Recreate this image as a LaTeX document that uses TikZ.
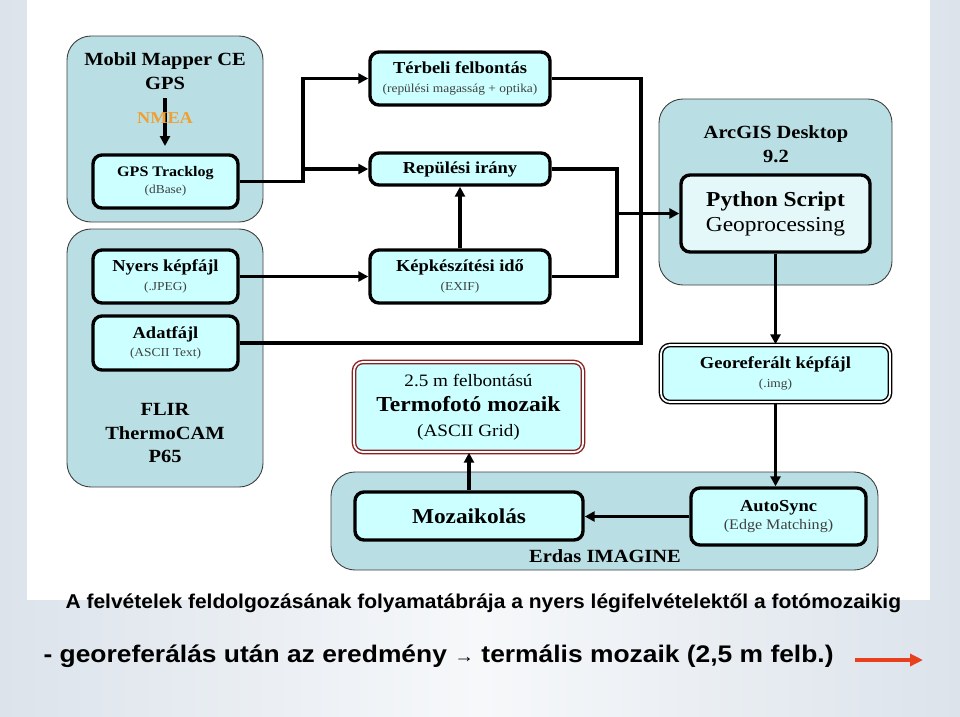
\documentclass[tikz,border=0pt]{standalone}
\usepackage{fontspec}
\setmainfont{Liberation Serif}[FakeStretch=1.1]
\newfontfamily\captionfont[FakeStretch=1.05]{Liberation Sans}
\newfontfamily\resultfont[FakeStretch=1.1]{Liberation Sans}
\usetikzlibrary{arrows.meta}

\definecolor{grpfill}{HTML}{B9DEE3}
\definecolor{boxfill}{HTML}{CCFFFF}
\definecolor{scriptfill}{HTML}{E4F7F9}
\definecolor{subgray}{HTML}{404040}
\definecolor{nmeaorange}{HTML}{F0A030}
\definecolor{termored}{HTML}{8B2020}
\definecolor{slidebg}{HTML}{DCE3EB}
\definecolor{redarrow}{HTML}{E8401C}

\newcommand{\subtxt}[1]{{\mdseries\fontsize{12.2}{14}\selectfont\color{subgray}#1}}

\begin{document}
\begin{tikzpicture}[x=1pt, y=-1pt,
    group/.style = {draw=black!75, fill=grpfill, rounded corners=24pt, line width=0.9pt},
    box/.style = {draw, fill=boxfill, rounded corners=9pt, line width=3.4pt, align=center,
      inner sep=0pt, font=\fontsize{16.8}{18.5}\selectfont\bfseries},
    dbox/.style = {box, line width=1.4pt, double=white, double distance=1.8pt},
    title/.style = {align=center, font=\fontsize{18.6}{23.5}\selectfont\bfseries},
    arr/.style = {line width=3.4pt, -{Triangle[length=10pt, width=10pt]}},
    link/.style = {line width=3.4pt}]

    \useasboundingbox (0, 0) rectangle (960, 716);
    \shade[left color=slidebg, right color=slidebg, middle color=white!75!slidebg] (0, 0) rectangle (960, 716);
    \fill[white] (27, 0) rectangle (930, 600);

    \node[group, minimum width=196, minimum height=186] (gpsgrp) at (165, 129) {};
    \node[group, minimum width=196, minimum height=258] (flirgrp) at (165, 358) {};
    \node[group, minimum width=233, minimum height=186] (arcgrp) at (775.5, 192) {};
    \node[group, minimum width=547, minimum height=98] (erdasgrp) at (604.5, 521) {};

    \node[title] (gpstitle) at (165, 71) {Mobil Mapper CE\\GPS};
    \node[title] (flirtitle) at (165, 433) {FLIR\\ThermoCAM\\P65};
    \node[title] (arctitle) at (776, 144) {ArcGIS Desktop\\9.2};
    \node[title, anchor=base] (erdastitle) at (605, 562) {Erdas IMAGINE};

    \node[box, minimum width=145, minimum height=53, font=\fontsize{14.6}{17}\selectfont\bfseries] (gps) at (165.5, 181.5) {GPS Tracklog\\\subtxt{(dBase)}};
    \node[box, minimum width=145, minimum height=53] (nyers) at (165.5, 276.5) {Nyers képfájl\\\subtxt{(.JPEG)}};
    \node[box, minimum width=145, minimum height=54] (adat) at (165.5, 343) {Adatfájl\\\subtxt{(ASCII Text)}};
    \node[box, minimum width=180, minimum height=53] (terbeli) at (460, 78.5) {Térbeli felbontás\\\subtxt{(repülési magasság + optika)}};
    \node[box, minimum width=180, minimum height=32] (irany) at (460, 169) {Repülési irány};
    \node[box, minimum width=180, minimum height=53] (ido) at (460, 276.5) {Képkészítési idő\\\subtxt{(EXIF)}};
    \node[box, fill=scriptfill, minimum width=189, minimum height=77, font=\fontsize{21.3}{25}\selectfont\bfseries] (python) at (775.5, 213.5) {Python Script\\{\mdseries Geoprocessing}};
    \node[dbox, minimum width=229, minimum height=57] (georef) at (775.5, 373.5) {Georeferált képfájl\\\subtxt{(.img)}};
    \node[dbox, draw=termored, minimum width=229, minimum height=90, font=\fontsize{21.4}{25}\selectfont\bfseries] (termo) at (468.5, 407) {{\mdseries\fontsize{17.4}{21}\selectfont 2.5 m felbontású}\\Termofotó mozaik\\{\mdseries\fontsize{17.4}{21}\selectfont (ASCII Grid)}};
    \node[box, minimum width=228, minimum height=48, font=\fontsize{21.2}{24}\selectfont\bfseries] (mozaik) at (469, 516) {Mozaikolás};
    \node[box, minimum width=175, minimum height=57] (autosync) at (778.5, 516.5) {AutoSync\\{\mdseries\fontsize{14.6}{17}\selectfont\color{subgray}(Edge Matching)}};

    \coordinate (nmeatop) at (165, 98);
    \coordinate (nmeabot) at (165, 146);
    \draw[arr] (nmeatop) -- (nmeabot);
    \node[font=\fontsize{16.6}{18}\selectfont\bfseries, text=nmeaorange] (nmea) at (165, 118) {NMEA};

    \coordinate (gpsjoin) at (303, 78.5);
    \draw[arr] (gps.east) -| (gpsjoin) -- (terbeli.west);
    \draw[arr] (gpsjoin |- irany.west) -- (irany.west);
    \draw[arr] (nyers.east) -- (ido.west);
    \draw[arr] (ido.north) -- (irany.south);

    \coordinate (adatjoin) at (641, 78.5);
    \draw[link] (terbeli.east) -- (adatjoin) |- (adat.east);
    \coordinate (pyjoin) at (617, 213.5);
    \draw[link] (irany.east) -| (pyjoin) |- (ido.east);
    \draw[arr] (pyjoin) -- (python.west);

    \draw[arr] (python.south) -- (georef.north);
    \draw[arr] (georef.south) -- (georef.south |- autosync.north);
    \draw[arr] (autosync.west) -- (autosync.west -| mozaik.east);
    \draw[arr] (mozaik.north) -- (mozaik.north |- termo.south);

    \node[anchor=base west, font=\captionfont\bfseries\fontsize{20}{24}\selectfont] (caption) at (62, 608) {A felvételek feldolgozásának folyamatábrája a nyers légifelvételektől a fotómozaikig};
    \node[anchor=base west, font=\resultfont\bfseries\fontsize{24}{28}\selectfont] (result) at (40, 662) {- georeferálás után az eredmény {\mdseries\fontsize{18}{22}\selectfont →} termális mozaik (2,5 m felb.)};
    \coordinate (redtail) at (855, 660);
    \coordinate (redhead) at (923, 660);
    \draw[redarrow, line width=3.6pt, -{Triangle[length=13pt, width=12pt]}] (redtail) -- (redhead);

  \end{tikzpicture}
\end{document}
